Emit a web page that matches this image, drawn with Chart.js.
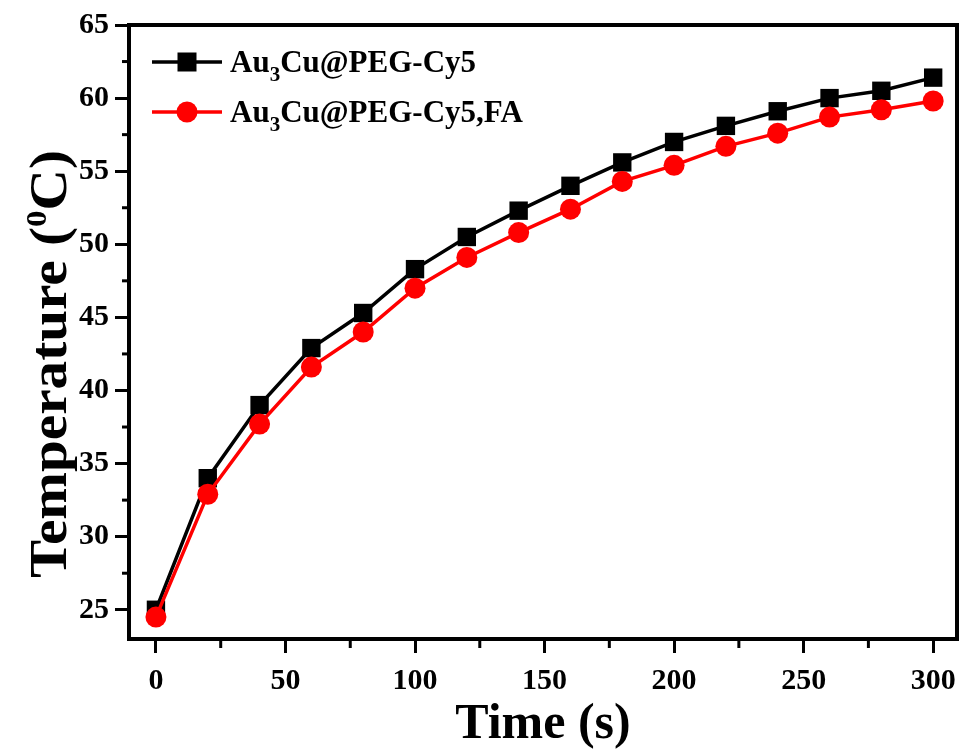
<!DOCTYPE html>
<html>
<head>
<meta charset="utf-8">
<script src="https://cdn.jsdelivr.net/npm/chart.js@4"></script>
<style>
  html, body { margin: 0; padding: 0; background: #fff; }
  #wrap { width: 961px; height: 751px; }
</style>
</head>
<body>
<div id="wrap"><canvas id="heatChart" width="961" height="751"></canvas></div>
<script>
const times = [0, 20, 40, 60, 80, 100, 120, 140, 160, 180, 200, 220, 240, 260, 280, 300];
const tempPegCy5 = [25.0, 34.0, 39.0, 42.9, 45.3, 48.3, 50.5, 52.3, 54.0, 55.6, 57.0, 58.1, 59.1, 60.0, 60.5, 61.4];
const tempPegCy5Fa = [24.5, 32.9, 37.7, 41.6, 44.0, 47.0, 49.1, 50.8, 52.4, 54.3, 55.4, 56.7, 57.6, 58.7, 59.2, 59.8];
const xMinorTicks = [25, 75, 125, 175, 225, 275];
const yMinorTicks = [27.5, 32.5, 37.5, 42.5, 47.5, 52.5, 57.5, 62.5];

const FONT = '"Liberation Serif", "Times New Roman", serif';

function toPoints(values) {
  return times.map((t, i) => ({ x: t, y: values[i] }));
}

// frame top/right, minor ticks, legend and axis titles
const decorations = {
  id: 'decorations',
  afterDraw(chart) {
    const ctx = chart.ctx;
    const area = chart.chartArea;
    const xs = chart.scales.x;
    const ys = chart.scales.y;
    ctx.save();
    ctx.strokeStyle = '#000';
    ctx.lineWidth = 4;
    ctx.beginPath();
    ctx.moveTo(area.left - 2, area.top);
    ctx.lineTo(area.right, area.top);
    ctx.lineTo(area.right, area.bottom + 2);
    ctx.stroke();

    ctx.lineWidth = 3;
    xMinorTicks.forEach(v => {
      const px = xs.getPixelForValue(v);
      ctx.beginPath();
      ctx.moveTo(px, area.bottom);
      ctx.lineTo(px, area.bottom + 9);
      ctx.stroke();
    });
    yMinorTicks.forEach(v => {
      const py = ys.getPixelForValue(v);
      ctx.beginPath();
      ctx.moveTo(area.left, py);
      ctx.lineTo(area.left - 7, py);
      ctx.stroke();
    });

    // legend
    const entries = [
      { y: 62, color: '#000', shape: 'rect', label: 'PEG-Cy5' },
      { y: 112, color: '#ff0000', shape: 'circle', label: 'PEG-Cy5,FA' }
    ];
    entries.forEach(e => {
      ctx.strokeStyle = e.color;
      ctx.fillStyle = e.color;
      ctx.lineWidth = 3.5;
      ctx.beginPath();
      ctx.moveTo(152, e.y);
      ctx.lineTo(222, e.y);
      ctx.stroke();
      if (e.shape === 'rect') {
        ctx.fillRect(187 - 9.5, e.y - 9.5, 19, 19);
      } else {
        ctx.beginPath();
        ctx.arc(187, e.y, 10.5, 0, Math.PI * 2);
        ctx.fill();
      }
      ctx.fillStyle = '#000';
      ctx.textBaseline = 'alphabetic';
      ctx.textAlign = 'left';
      let x = 230;
      const base = e.y + 10;
      ctx.font = 'bold 31px ' + FONT;
      ctx.fillText('Au', x, base);
      x += ctx.measureText('Au').width;
      ctx.font = 'bold 21px ' + FONT;
      ctx.fillText('3', x, base + 9);
      x += ctx.measureText('3').width;
      ctx.font = 'bold 31px ' + FONT;
      ctx.fillText('Cu@' + e.label, x, base);
    });

    // x title
    ctx.font = 'bold 50px ' + FONT;
    ctx.textAlign = 'center';
    ctx.fillText('Time (s)', (area.left + area.right) / 2, 738);

    // y title with superscript
    ctx.translate(66, 364);
    ctx.rotate(-Math.PI / 2);
    ctx.scale(1.1, 1);
    ctx.font = 'bold 52px ' + FONT;
    const p1 = 'Temperature (';
    const p3 = 'C)';
    const w1 = ctx.measureText(p1).width;
    const w3 = ctx.measureText(p3).width;
    ctx.font = 'bold 30px ' + FONT;
    const w2 = ctx.measureText('0').width;
    const total = w1 + w2 + w3;
    ctx.textAlign = 'left';
    let tx = -total / 2;
    ctx.font = 'bold 52px ' + FONT;
    ctx.fillText(p1, tx, 0);
    tx += w1;
    ctx.font = 'bold 30px ' + FONT;
    ctx.fillText('0', tx, -20);
    tx += w2;
    ctx.font = 'bold 52px ' + FONT;
    ctx.fillText(p3, tx, 0);
    ctx.restore();
  }
};

document.addEventListener('DOMContentLoaded', () => {
  new Chart(document.getElementById('heatChart'), {
    type: 'line',
    data: {
      datasets: [
        {
          label: 'Au3Cu@PEG-Cy5,FA',
          data: toPoints(tempPegCy5Fa),
          borderColor: '#ff0000',
          backgroundColor: '#ff0000',
          borderWidth: 3.5,
          pointStyle: 'circle',
          pointRadius: 10.5,
          pointBorderWidth: 0,
          order: 0
        },
        {
          label: 'Au3Cu@PEG-Cy5',
          data: toPoints(tempPegCy5),
          borderColor: '#000',
          backgroundColor: '#000',
          borderWidth: 3.5,
          pointStyle: 'rect',
          pointRadius: 13,
          pointBorderWidth: 0,
          order: 1
        }
      ]
    },
    options: {
      responsive: false,
      animation: false,
      layout: { autoPadding: false, padding: { top: 25, right: 4, left: 0, bottom: 0 } },
      plugins: { legend: { display: false }, tooltip: { enabled: false } },
      scales: {
        x: {
          type: 'linear',
          min: -10.4,
          max: 309.2,
          afterFit: scale => {
            scale.height = 112;
            scale.paddingLeft = 0;
            scale.paddingRight = 0;
          },
          border: { color: '#000', width: 4 },
          grid: { drawOnChartArea: false, color: '#000', tickLength: 14, tickWidth: 3 },
          ticks: {
            stepSize: 50,
            includeBounds: false,
            color: '#000',
            padding: 10,
            maxRotation: 0,
            font: { family: FONT, size: 30, weight: 'bold' }
          }
        },
        y: {
          min: 23,
          max: 65,
          afterFit: scale => {
            scale.width = 129;
            scale.paddingTop = 0;
            scale.paddingBottom = 0;
          },
          border: { color: '#000', width: 4 },
          grid: { drawOnChartArea: false, color: '#000', tickLength: 14, tickWidth: 3 },
          ticks: {
            stepSize: 5,
            includeBounds: false,
            color: '#000',
            padding: 6,
            font: { family: FONT, size: 30, weight: 'bold' }
          }
        }
      }
    },
    plugins: [decorations]
  });
});
</script>
</body>
</html>
